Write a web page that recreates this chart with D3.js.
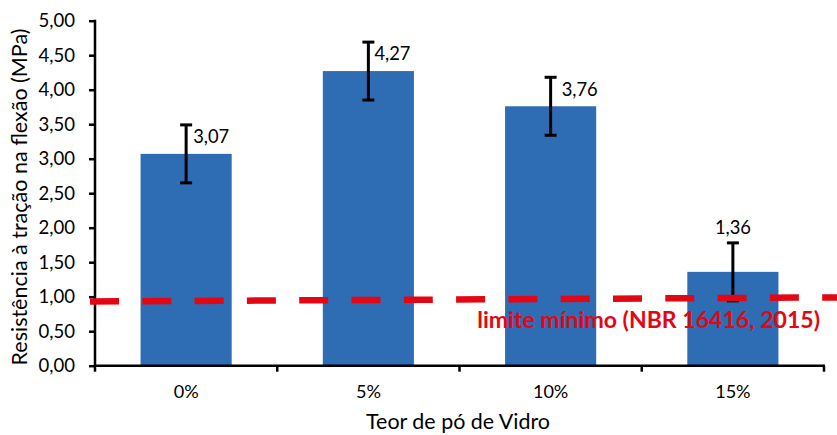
<!DOCTYPE html>
<html><head><meta charset="utf-8">
<script src="https://cdn.jsdelivr.net/npm/d3@7"></script>
<style>body{margin:0;background:#fff}svg{display:block}text{font-family:Lato,"Open Sans",sans-serif}</style>
</head><body><svg id="c" width="837" height="435"></svg>
<script>
const categories = ["0%", "5%", "10%", "15%"];
const values = [3.07, 4.27, 3.76, 1.36];
const errors = [0.42, 0.42, 0.42, 0.42];
const yTicks = [0, 0.5, 1, 1.5, 2, 2.5, 3, 3.5, 4, 4.5, 5];
const limitValues = [0.93, 0.99]; // dashed line at its left and right ends
const limitLabel = "limite mínimo (NBR 16416, 2015)";
const xTitle = "Teor de pó de Vidro";
const yTitle = "Resistência à tração na flexão (MPa)";

const svg = d3.select("#c");
const W = 837, H = 435;
const pLeft = 95, pRight = 824, pTop = 20.7, pBottom = 365.7;
const x = d3.scaleBand(categories, [pLeft, pRight]).paddingInner(0.5).paddingOuter(0.25);
const y = d3.scaleLinear([0, 5], [pBottom, pTop]);
const fmt = v => d3.format(".2f")(v).replace(".", ",");

// font size that gives a string a target width
function fitSize(str, target, weight) {
  const t = svg.append("text").attr("font-size", 20).attr("font-weight", weight || "normal").text(str);
  const w = t.node().getComputedTextLength();
  t.remove();
  return 20 * target / w;
}
const fsTick = fitSize("5,00", 36.5);
const fsXTick = fitSize("0%", 25);
const fsVal = fitSize("3,07", 36);
const fsYTitle = fitSize(yTitle, 337);
const fsXTitle = fitSize(xTitle, 184);
const fsLimit = fitSize(limitLabel, 343, "bold");

// bars
svg.append("g").selectAll("rect").data(values).join("rect")
  .attr("x", (d, i) => x(categories[i]))
  .attr("y", d => y(d))
  .attr("width", x.bandwidth())
  .attr("height", d => y(0) - y(d))
  .attr("fill", "#2e6db4");

// error bars
const eg = svg.append("g").attr("stroke", "#000").attr("stroke-width", 3);
values.forEach((v, i) => {
  const cx = x(categories[i]) + x.bandwidth() / 2;
  eg.append("line").attr("x1", cx).attr("x2", cx).attr("y1", y(v + errors[i])).attr("y2", y(v - errors[i]));
  [v + errors[i], v - errors[i]].forEach(e =>
    eg.append("line").attr("x1", cx - 6).attr("x2", cx + 6).attr("y1", y(e)).attr("y2", y(e)));
});

// value labels
const labelDx = [25, 24, 29, 0];
values.forEach((v, i) => {
  const cx = x(categories[i]) + x.bandwidth() / 2 + labelDx[i];
  const cy = labelDx[i] === 0 ? y(v + errors[i]) - 15 : y(v) - 17;
  svg.append("text").attr("x", cx).attr("y", cy).attr("dy", "0.35em")
    .attr("text-anchor", "middle").attr("font-size", fsVal).attr("fill", "#000").text(fmt(v));
});

// axes
const ya = svg.append("g").attr("transform", `translate(${pLeft},0)`)
  .call(d3.axisLeft(y).tickValues(yTicks).tickFormat(fmt).tickSize(6).tickPadding(14));
ya.select(".domain").remove();
ya.selectAll(".tick line").attr("stroke", "#000").attr("stroke-width", 2.5);
ya.selectAll(".tick text").attr("font-size", fsTick).attr("fill", "#000").attr("font-family", "Lato");
svg.append("line").attr("x1", pLeft).attr("x2", pLeft).attr("y1", pTop - 1).attr("y2", pBottom + 1)
  .attr("stroke", "#000").attr("stroke-width", 2.5);

const xa = svg.append("g").attr("transform", `translate(0,${pBottom})`)
  .call(d3.axisBottom(x).tickSize(0).tickPadding(19));
xa.select(".domain").remove();
xa.selectAll(".tick text").attr("font-size", fsXTick).attr("fill", "#000").attr("font-family", "Lato");
svg.append("line").attr("x1", pLeft - 1).attr("x2", pRight + 1).attr("y1", pBottom).attr("y2", pBottom)
  .attr("stroke", "#000").attr("stroke-width", 2.5);
const gap = x.step() - x.bandwidth();
const bounds = categories.map(c => x(c) - gap / 2).concat([x(categories[categories.length - 1]) + x.bandwidth() + gap / 2]);
svg.append("g").selectAll("line").data(bounds).join("line")
  .attr("x1", d => d).attr("x2", d => d).attr("y1", pBottom).attr("y2", pBottom + 6)
  .attr("stroke", "#000").attr("stroke-width", 2.5);

// limit dashed line
const lx = d3.scaleLinear([0, 1], [90, W]);
svg.append("line")
  .attr("x1", lx(0)).attr("x2", lx(1))
  .attr("y1", y(limitValues[0])).attr("y2", y(limitValues[1]))
  .attr("stroke", "#e30613").attr("stroke-width", 6.5).attr("stroke-dasharray", "29 23.3");
svg.append("text").attr("x", 820).attr("y", 320).attr("dy", "0.35em")
  .attr("text-anchor", "end").attr("font-weight", "bold").attr("font-size", fsLimit)
  .attr("fill", "#e30613").text(limitLabel);

// titles
svg.append("text").attr("x", 458).attr("y", 429).attr("text-anchor", "middle")
  .attr("font-size", fsXTitle).attr("fill", "#000").text(xTitle);
svg.append("text").attr("transform", "translate(19,197) rotate(-90)").attr("dy", "0.35em")
  .attr("text-anchor", "middle").attr("font-size", fsYTitle).attr("fill", "#000").text(yTitle);
</script></body></html>
